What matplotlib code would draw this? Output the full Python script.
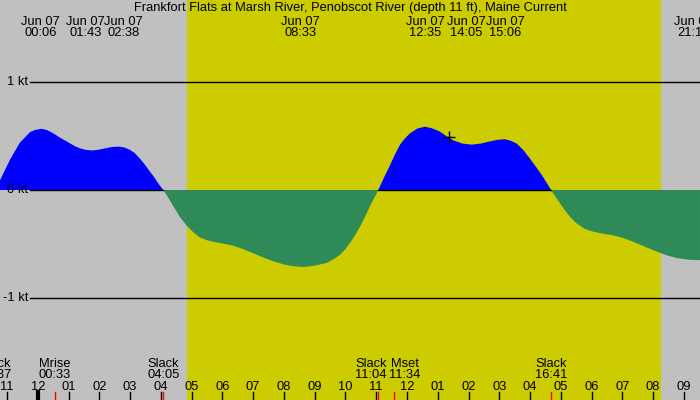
import numpy as np
import matplotlib
matplotlib.use("Agg")
import matplotlib.pyplot as plt

plt.rcParams['font.family'] = ['Liberation Sans', 'DejaVu Sans']

title = "Frankfort Flats at Marsh River, Penobscot River (depth 11 ft), Maine Current"

# current speed (kt), hours from 00:00 Jun 07
hours = [-1.228, -0.903, -0.578, -0.253, -0.10, 0.127, 0.30, 0.504, 0.72, 0.939,
         1.21, 1.371, 1.55, 1.752, 1.95, 2.129, 2.40, 2.616, 2.80, 2.996,
         3.16, 3.321, 3.48, 3.646, 3.78, 3.916, 4.083, 4.24, 4.404, 4.62,
         4.839, 5.05, 5.271, 5.50, 5.704, 6.00, 6.354, 6.70, 7.004, 7.33,
         7.654, 8.00, 8.304, 8.55, 8.739, 9.01, 9.389, 9.62, 9.821, 9.99,
         10.146, 10.31, 10.471, 10.64, 10.796, 10.93, 11.067, 11.26, 11.449, 11.61,
         11.774, 11.94, 12.099, 12.34, 12.587, 12.83, 13.074, 13.30, 13.503, 13.80,
         14.102, 14.40, 14.696, 14.95, 15.184, 15.38, 15.564, 15.78, 15.997, 16.19,
         16.377, 16.53, 16.683, 16.88, 17.085, 17.30, 17.514, 17.78, 18.054, 18.38,
         18.704, 19.03, 19.354, 19.73, 20.114, 20.44, 20.764, 21.14, 21.521]
speed = [0.09, 0.28, 0.44, 0.535, 0.555, 0.567, 0.555, 0.525, 0.485, 0.45,
         0.405, 0.386, 0.372, 0.366, 0.372, 0.382, 0.398, 0.402, 0.395, 0.372,
         0.34, 0.29, 0.235, 0.17, 0.12, 0.06, 0.0, -0.07, -0.15, -0.25,
         -0.33, -0.39, -0.44, -0.465, -0.48, -0.495, -0.515, -0.55, -0.586, -0.625,
         -0.66, -0.69, -0.705, -0.712, -0.71, -0.70, -0.675, -0.64, -0.60, -0.55,
         -0.49, -0.42, -0.34, -0.245, -0.15, -0.075, 0.0, 0.12, 0.23, 0.33,
         0.42, 0.48, 0.525, 0.57, 0.586, 0.57, 0.54, 0.495, 0.46, 0.43,
         0.42, 0.43, 0.45, 0.465, 0.47, 0.455, 0.43, 0.37, 0.29, 0.215,
         0.14, 0.07, 0.0, -0.085, -0.17, -0.25, -0.31, -0.36, -0.386, -0.405,
         -0.42, -0.445, -0.48, -0.525, -0.57, -0.605, -0.63, -0.645, -0.65]

sunrise, sunset = "04:51", "20:15"

# max / min current labels along the top
top_times = ["00:06", "01:43", "02:38", "08:33", "12:35", "14:05", "15:06", "21:19"]
top_date = "Jun 07"

# slack and moon events along the bottom
ev_names = ["Slack", "Mrise", "Slack", "Slack", "Mset", "Slack"]
ev_times = ["22:37", "00:33", "04:05", "11:04", "11:34", "16:41"]
ev_days = [-1, 0, 0, 0, 0, 0]

hour_ticks = list(range(-1, 22))
kt_levels = [1, 0, -1]


def to_h(s, day=0):
    h, m = s.split(":")
    return day * 24 + int(h) + int(m) / 60.0


hours = np.array(hours)
speed = np.array(speed)

gray = "#c0c0c0"
yellow = "#cccc00"
fs = 9.3

fig = plt.figure(figsize=(7, 4), dpi=100)
ax = fig.add_axes([0, 0, 1, 1])
pxh = 30.77
ax.set_xlim(-1 - 7 / pxh, -1 + 693 / pxh)
ax.set_ylim((190 - 400) / 108.0, 190 / 108.0)
ax.axis("off")
ax.add_patch(plt.Rectangle((0, 0), 1, 1, transform=ax.transAxes, color=gray, zorder=0))

ax.axvspan(to_h(sunrise), to_h(sunset), color=yellow, zorder=0.5, lw=0)

ax.fill_between(hours, 0, speed, where=speed >= 0, interpolate=True,
                color="#0000ff", lw=0, zorder=2)
ax.fill_between(hours, 0, speed, where=speed <= 0, interpolate=True,
                color="#2e8b57", lw=0, zorder=2)

x0 = ax.get_xlim()[0] + 30 / pxh
for k in kt_levels:
    if k == 0:
        z = np.where((speed >= 0) & (hours >= x0 - 0.01), 0.0, np.nan)
        ax.plot(hours, z, color="black", lw=1, zorder=3)
    else:
        ax.plot([x0, ax.get_xlim()[1]], [k, k], color="black", lw=1, zorder=3)
    ax.annotate("%d kt" % k, xy=(x0, k), xytext=(-2, 0), textcoords="offset pixels",
                ha="right", va="center", fontsize=fs, zorder=4)

ax.plot([13.37], [0.488], marker="+", color="black", ms=8, mew=1, zorder=4)

# title + top labels
fig.text(0.5, 1 - 11.5 / 400, title, ha="center", va="baseline", fontsize=fs)
top_shift = [0, -5, 5, 0, 0, -5, 3, 0]
for s, dx in zip(top_times, top_shift):
    t = to_h(s)
    ax.annotate(top_date, xy=(t, 0), xycoords=("data", "figure pixels"),
                xytext=(dx, 400 - 25), textcoords=("offset pixels", "figure pixels"),
                ha="center", va="baseline", fontsize=fs)
    ax.annotate(s, xy=(t, 0), xycoords=("data", "figure pixels"),
                xytext=(dx, 400 - 36.5), textcoords=("offset pixels", "figure pixels"),
                ha="center", va="baseline", fontsize=fs)

# hour ticks
for h in hour_ticks:
    lab = "%02d" % (h % 12 if h % 12 else 12)
    ax.annotate(lab, xy=(h, 0), xycoords=("data", "figure pixels"),
                xytext=(0, 400 - 389.5), textcoords=("offset pixels", "figure pixels"),
                ha="center", va="baseline", fontsize=fs)
    ax.plot([h, h], [0, 8.5 / 400], transform=ax.get_xaxis_transform(),
            color="black", lw=3 if h == 0 else 1, zorder=4, clip_on=False)

ev_shift = [0, 0, 0, -7.5, 11, 0]
for n, s, d, dx in zip(ev_names, ev_times, ev_days, ev_shift):
    t = to_h(s, d)
    ax.annotate(n, xy=(t, 0), xycoords=("data", "figure pixels"),
                xytext=(dx, 400 - 367), textcoords=("offset pixels", "figure pixels"),
                ha="center", va="baseline", fontsize=fs)
    ax.annotate(s, xy=(t, 0), xycoords=("data", "figure pixels"),
                xytext=(dx, 400 - 378), textcoords=("offset pixels", "figure pixels"),
                ha="center", va="baseline", fontsize=fs)
    ax.plot([t, t], [0, 8.5 / 400], transform=ax.get_xaxis_transform(),
            color="red", lw=1, zorder=4)

fig.savefig("out.png", dpi=100)
